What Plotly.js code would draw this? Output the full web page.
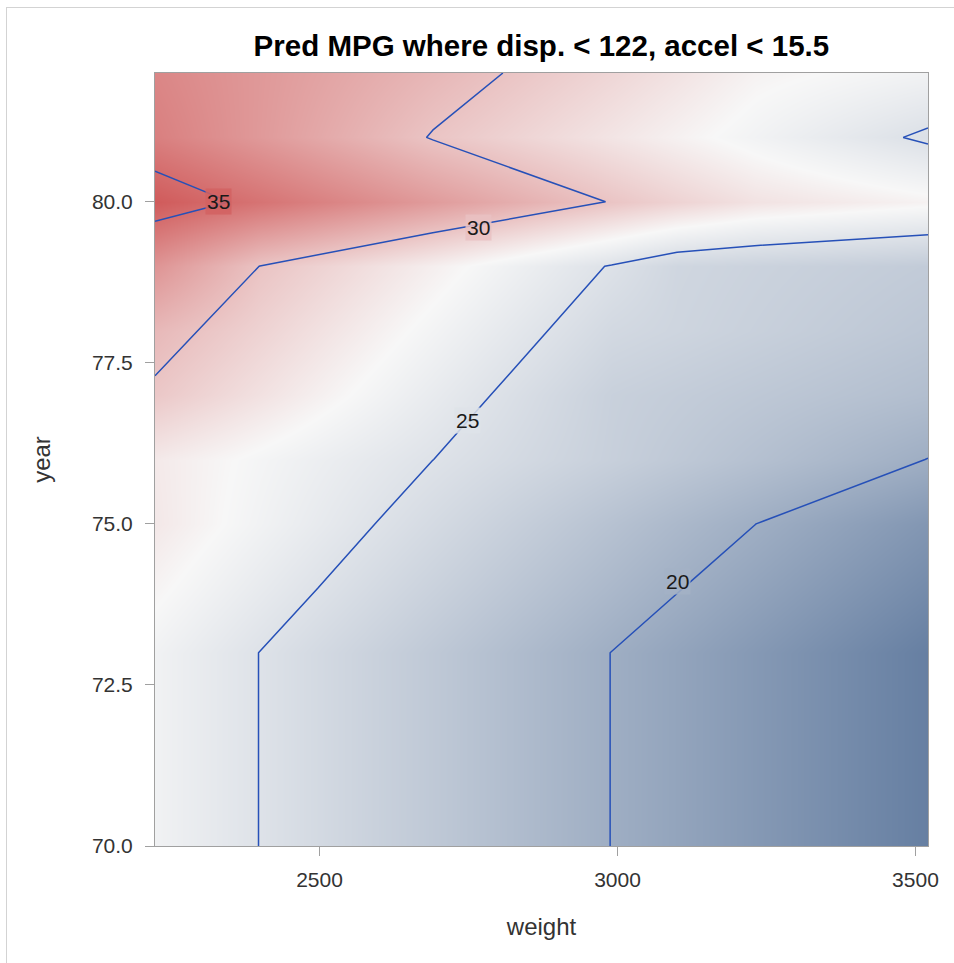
<!DOCTYPE html>
<html>
<head>
<meta charset="utf-8">
<script src="https://cdn.plot.ly/plotly-3.0.1.min.js"></script>
<style>
  html, body { margin: 0; padding: 0; background: #ffffff; }
  #frame { position: absolute; left: 6px; top: 7px; width: 960px; height: 960px;
           border-left: 1px solid #d3d3d3; border-top: 1px solid #d3d3d3; pointer-events: none; }
  #chart { position: absolute; left: 0; top: 0; width: 954px; height: 963px; }
</style>
</head>
<body>
<div id="chart"></div>
<div id="frame"></div>
<script>
// weight grid (x) and model years (y)
const weights = [2224, 2400, 2690, 2990, 3100, 3230, 3521];
const years = [70, 71, 72, 73, 74, 75, 76, 77, 78, 79, 80, 81, 82];

// predicted MPG, one row per year, one value per weight
const mpg70 = [26.49, 24.98, 22.54, 19.98, 19.07, 17.97, 15.50];
const mpg71 = [26.49, 24.98, 22.54, 19.98, 19.07, 17.97, 15.50];
const mpg72 = [26.49, 24.98, 22.54, 19.98, 19.07, 17.97, 15.50];
const mpg73 = [26.49, 24.98, 22.54, 19.98, 19.07, 17.97, 15.50];
const mpg74 = [27.23, 25.79, 23.43, 20.98, 20.08, 19.02, 16.65];
const mpg75 = [27.90, 26.51, 24.24, 21.88, 21.02, 20.02, 17.72];
const mpg76 = [27.80, 26.74, 25.01, 23.19, 22.53, 21.75, 19.97];
const mpg77 = [29.74, 28.26, 25.82, 23.29, 22.92, 22.48, 21.50];
const mpg78 = [30.61, 29.11, 26.64, 24.09, 23.72, 23.28, 22.30];
const mpg79 = [32.70, 29.98, 27.50, 24.90, 23.86, 23.50, 22.80];
const mpg80 = [36.00, 34.60, 32.30, 29.92, 29.10, 28.20, 27.30];
const mpg81 = [33.90, 32.40, 29.91, 28.06, 27.37, 26.56, 24.74];
const mpg82 = [33.50, 32.45, 30.71, 28.90, 28.20, 27.30, 26.50];

// contour levels and their labels
const levels = [20, 25, 30, 35];
const levelLabels = ['20', '25', '30', '35'];

const yTickVals = [70, 72.5, 75, 77.5, 80];
const yTickText = ['70.0', '72.5', '75.0', '77.5', '80.0'];
const xTickVals = [2500, 3000, 3500];
const xTickText = ['2500', '3000', '3500'];

const zMin = 15.5, zMid = 27.0, zMax = 36.0;

const z = [mpg70, mpg71, mpg72, mpg73, mpg74, mpg75, mpg76, mpg77, mpg78, mpg79, mpg80, mpg81, mpg82];

const font = 'Liberation Sans, Arial, Helvetica, sans-serif';

const trace = {
  type: 'contour',
  x: weights,
  y: years,
  z: z,
  zmin: zMin,
  zmax: zMax,
  zauto: false,
  colorscale: [
    [0, '#667FA2'],
    [(zMid - zMin) / (zMax - zMin), '#F7F7F7'],
    [1, '#D05B5B']
  ],
  showscale: false,
  contours: {
    coloring: 'heatmap',
    start: levels[0], end: levels[levels.length - 1], size: levels[1] - levels[0],
    showlabels: false
  },
  line: { color: '#2650B8', width: 1.5, smoothing: 0 },
  hoverinfo: 'skip'
};

// label placement (where the reference draws each level's label) and local backdrop colour
const labelSpots = [
  { x: 3100, y: 74.1, bg: 'rgba(163,178,198,0.85)' },
  { x: 2749, y: 76.6, bg: 'rgba(222,227,233,0.85)' },
  { x: 2766, y: 79.6, bg: 'rgba(233,193,194,0.85)' },
  { x: 2330, y: 80.0, bg: 'rgba(210,98,98,0.85)' }
];
const annotations = levelLabels.map((t, i) => ({
  x: labelSpots[i].x, y: labelSpots[i].y, xref: 'x', yref: 'y',
  text: t, showarrow: false,
  font: { family: font, size: 21, color: '#1a1a1a' },
  bgcolor: labelSpots[i].bg, borderpad: 1,
  xanchor: 'center', yanchor: 'middle'
}));

const layout = {
  width: 954,
  height: 963,
  margin: { l: 155, r: 26, t: 73, b: 117 },
  paper_bgcolor: '#ffffff',
  plot_bgcolor: '#ffffff',
  title: {
    text: '<b>Pred MPG where disp. < 122, accel < 15.5</b>',
    font: { family: font, size: 29.5, color: '#000000' },
    x: 0.5675, xanchor: 'center',
    y: 0.953, yanchor: 'middle'
  },
  xaxis: {
    range: [2224, 3521],
    tickvals: xTickVals,
    ticktext: xTickText,
    ticks: 'outside', ticklen: 9, tickcolor: '#a0a0a0', tickwidth: 1,
    showline: true, linecolor: '#a0a0a0', linewidth: 1, mirror: true,
    showgrid: false, zeroline: false,
    tickfont: { family: font, size: 21, color: '#333333' },
    ticklabelstandoff: 6,
    title: { text: 'weight', font: { family: font, size: 24, color: '#333333' }, standoff: 27 }
  },
  yaxis: {
    range: [70, 82],
    tickvals: yTickVals,
    ticktext: yTickText,
    ticks: 'outside', ticklen: 9, tickcolor: '#a0a0a0', tickwidth: 1,
    showline: true, linecolor: '#a0a0a0', linewidth: 1, mirror: true,
    showgrid: false, zeroline: false,
    tickfont: { family: font, size: 21, color: '#333333' },
    ticklabelstandoff: 8,
    title: { text: 'year', font: { family: font, size: 24, color: '#333333' }, standoff: 34 }
  },
  annotations: annotations,
  showlegend: false
};

Plotly.newPlot('chart', [trace], layout, { displayModeBar: false, staticPlot: true });
</script>
</body>
</html>
